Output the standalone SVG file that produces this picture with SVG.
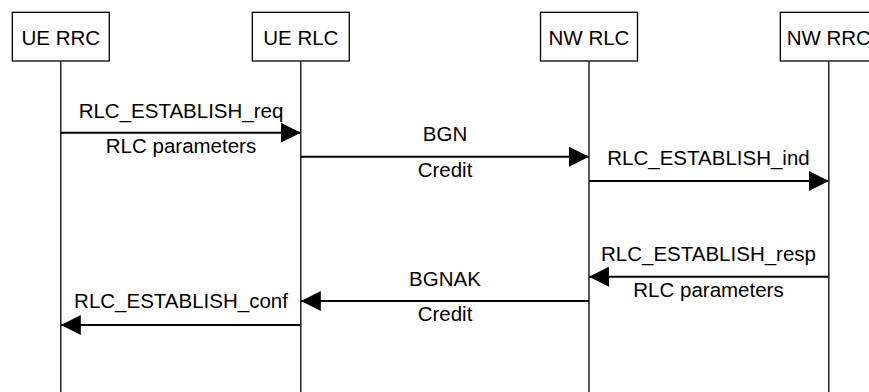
<svg xmlns="http://www.w3.org/2000/svg" width="869" height="392" viewBox="0 0 869 392">
  <style>
    .box { fill: #ffffff; stroke: #000000; stroke-width: 1.3; }
    .life { stroke: #000000; stroke-width: 1.3; fill: none; }
    .msg { stroke: #000000; stroke-width: 2; fill: none; marker-end: url(#arrow); }
    text { font-family: "Liberation Sans", Arial, sans-serif; font-size: 20.5px; fill: #000000; text-anchor: middle; }
  </style>
  <defs>
    <marker id="arrow" markerUnits="userSpaceOnUse" markerWidth="20" markerHeight="20" refX="20" refY="10" orient="auto">
      <path d="M0,0 L20,10 L0,20 Z" fill="#000000"/>
    </marker>
  </defs>
  <rect width="869" height="392" fill="#ffffff"/>
  <g id="ue-rrc">
    <line class="life" x1="60.8" y1="61" x2="60.8" y2="392"/>
    <rect class="box" x="12.3" y="12.3" width="97" height="48.7"/>
    <text x="60.8" y="45.3">UE RRC</text>
  </g>
  <g id="ue-rlc">
    <line class="life" x1="300.8" y1="61" x2="300.8" y2="392"/>
    <rect class="box" x="252.3" y="12.3" width="97" height="48.7"/>
    <text x="300.8" y="45.3">UE RLC</text>
  </g>
  <g id="nw-rlc">
    <line class="life" x1="589" y1="61" x2="589" y2="392"/>
    <rect class="box" x="540.5" y="12.3" width="97" height="48.7"/>
    <text x="589" y="45.3">NW RLC</text>
  </g>
  <g id="nw-rrc">
    <line class="life" x1="828.8" y1="61" x2="828.8" y2="392"/>
    <rect class="box" x="780.3" y="12.3" width="97" height="48.7"/>
    <text x="828.8" y="45.3">NW RRC</text>
  </g>
  <g id="connectors">
    <line class="msg" x1="60.8" y1="132.7" x2="300.8" y2="132.7"/>
    <text x="181" y="118.3">RLC_ESTABLISH_req</text>
    <text x="181" y="153">RLC parameters</text>

    <line class="msg" x1="300.8" y1="156.7" x2="589" y2="156.7"/>
    <text x="445" y="140.7">BGN</text>
    <text x="445" y="176.7">Credit</text>

    <line class="msg" x1="589" y1="181" x2="828.8" y2="181"/>
    <text x="708.5" y="165">RLC_ESTABLISH_ind</text>

    <line class="msg" x1="828.8" y1="276.7" x2="589" y2="276.7"/>
    <text x="708.5" y="261">RLC_ESTABLISH_resp</text>
    <text x="708.5" y="296.7">RLC parameters</text>

    <line class="msg" x1="589" y1="301" x2="300.8" y2="301"/>
    <text x="445" y="285.7">BGNAK</text>
    <text x="445" y="320.7">Credit</text>

    <line class="msg" x1="300.8" y1="325" x2="60.8" y2="325"/>
    <text x="181" y="308.3">RLC_ESTABLISH_conf</text>
  </g>
</svg>
